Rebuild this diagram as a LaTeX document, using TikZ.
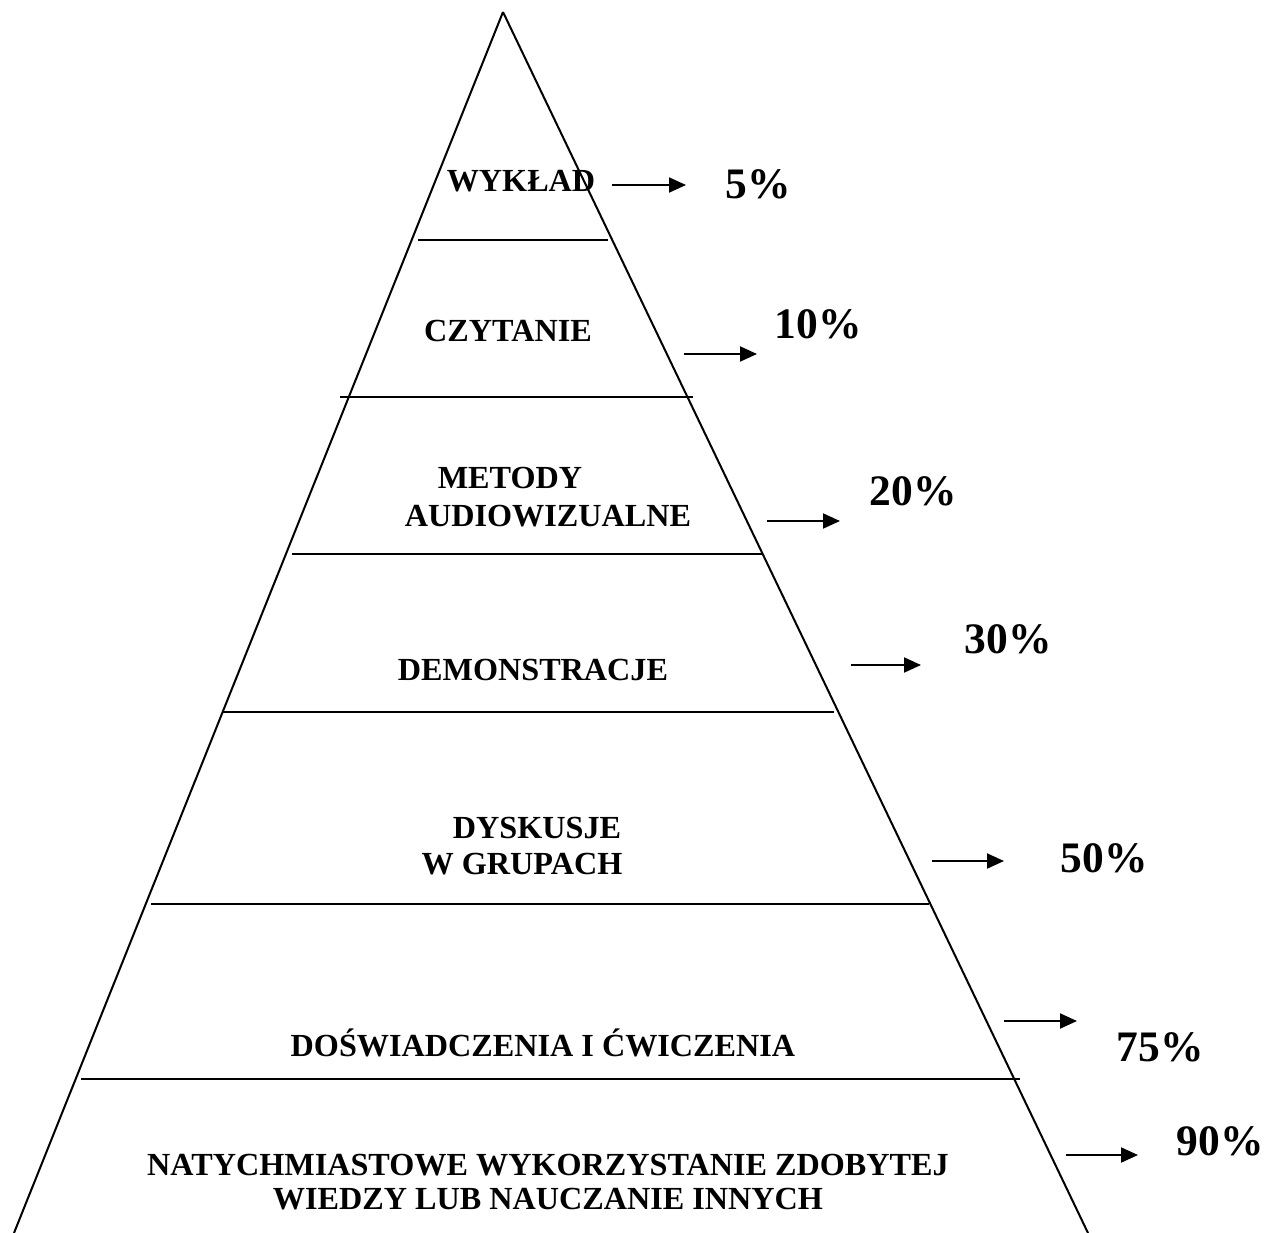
\documentclass[tikz,border=0pt]{standalone}
\usepackage{fontspec}
\setmainfont{Liberation Serif}
\usetikzlibrary{arrows.meta}
\tikzset{
  edge/.style={line width=2pt},
  lbl/.style={font=\fontsize{32.2}{35}\selectfont\bfseries, inner sep=0pt, align=center},
  pct/.style={font=\fontsize{43.5}{47}\selectfont\bfseries, inner sep=0pt},
  arr/.style={line width=2pt, -{Triangle[length=17pt,width=15pt]}}
}
\begin{document}
\begin{tikzpicture}[x=1pt,y=-1pt]
\useasboundingbox (0,0) rectangle (1272,1233);
% pyramid sides
\coordinate (apex) at (503,12);
\coordinate (bl) at (14,1233);
\coordinate (br) at (1088,1233);
\draw[edge] (apex) -- (bl);
\draw[edge] (apex) -- (br);
% horizontal dividers
\draw[edge] (418,240) -- (608,240);
\draw[edge] (340,397) -- (693,397);
\draw[edge] (292,554) -- (763,554);
\draw[edge] (223,712) -- (834,712);
\draw[edge] (151,904) -- (929,904);
\draw[edge] (81,1079) -- (1020,1079);
% labels
\node[lbl] (l1) at (521,181) {WYKŁAD};
\node[lbl] (l2) at (508,331) {CZYTANIE};
\node[lbl] (l3a) at (510,478) {METODY};
\node[lbl] (l3b) at (548,516) {AUDIOWIZUALNE};
\node[lbl] (l4) at (533,670) {DEMONSTRACJE};
\node[lbl] (l5a) at (537,828) {DYSKUSJE};
\node[lbl] (l5b) at (522,864) {W GRUPACH};
\node[lbl] (l6) at (543,1043) {DOŚWIADCZENIA I ĆWICZENIA};
\node[lbl] (l7a) at (548,1165) {NATYCHMIASTOWE WYKORZYSTANIE ZDOBYTEJ};
\node[lbl] (l7b) at (548,1199) {WIEDZY LUB NAUCZANIE INNYCH};
% percentages
\node[pct] (p1) at (758,184) {5\%};
\node[pct] (p2) at (818,324) {10\%};
\node[pct] (p3) at (913,491) {20\%};
\node[pct] (p4) at (1008,639) {30\%};
\node[pct] (p5) at (1104,858) {50\%};
\node[pct] (p6) at (1160,1047) {75\%};
\node[pct] (p7) at (1220,1141) {90\%};
% arrows
\coordinate (a1s) at (612,185); \coordinate (a1e) at (686,185);
\coordinate (a2s) at (684,354); \coordinate (a2e) at (757,354);
\coordinate (a3s) at (767,521); \coordinate (a3e) at (840,521);
\coordinate (a4s) at (851,665); \coordinate (a4e) at (921,665);
\coordinate (a5s) at (932,861); \coordinate (a5e) at (1004,861);
\coordinate (a6s) at (1004,1021); \coordinate (a6e) at (1077,1021);
\coordinate (a7s) at (1066,1155); \coordinate (a7e) at (1138,1155);
\draw[arr] (a1s) -- (a1e);
\draw[arr] (a2s) -- (a2e);
\draw[arr] (a3s) -- (a3e);
\draw[arr] (a4s) -- (a4e);
\draw[arr] (a5s) -- (a5e);
\draw[arr] (a6s) -- (a6e);
\draw[arr] (a7s) -- (a7e);
\end{tikzpicture}
\end{document}
